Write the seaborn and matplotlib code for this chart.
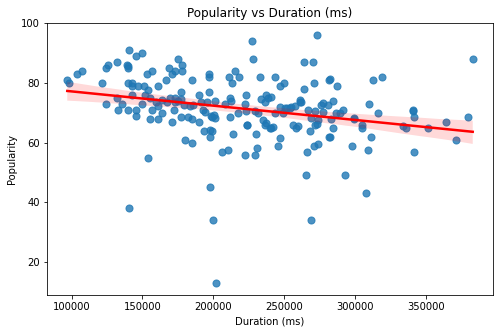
import numpy as np
import pandas as pd
import matplotlib
matplotlib.use("Agg")
import matplotlib.pyplot as plt
import seaborn as sns

duration_ms = [
    97000, 98200, 103700, 107600, 121700, 124500, 125500, 124500,
    132200, 138900, 140000, 140000, 140700, 145200, 149800,
    139500, 142800, 142400, 147000, 151300, 152900, 156500,
    154100, 160700, 166300, 168600, 170500, 172900, 175200, 178000, 178000, 185000, 177100, 189800,
    196800, 196800, 196800, 142800,
    131800, 135300, 132900, 139500, 145600, 145600, 149400, 151700, 155300, 156900, 155200, 161300,
    163900, 161100, 159500, 163500, 167000, 169300, 172900, 172900, 175000, 177000, 179000, 172400,
    171000, 177100, 181800, 184600, 189800, 192800, 186000, 183800, 191000, 195600, 198000,
    193500, 197500, 180000, 185300, 154100, 140700,
    197500, 199800, 201700,
    265000, 269100, 292600, 206000, 210400, 222400, 229400, 266000, 307300, 309000, 341300,
    227300, 228000, 263900, 270200, 273100,
    211100, 215100, 218100, 213200, 232700, 243300, 249800, 246800, 263700, 270700,
    201000, 211600, 212800, 222800, 222200, 237400, 238600, 233900, 236200, 240900, 246800,
    250300, 253800, 257300, 260900, 276100, 208100, 217400, 223300, 229200, 231500, 235000,
    236200, 242000, 243300, 249100, 201000, 211600, 224000, 256100, 269100, 271500, 273800,
    277300, 194000, 199100,
    197500, 199100, 213900, 223800, 230400, 231100, 246800, 245600, 259700, 258500, 267900,
    273100, 273800, 271000, 281500, 297700, 299100,
    281500, 282000, 287100, 284300, 277300, 280800, 291300, 286700, 289000, 283200, 284300,
    282000, 260900, 262100, 266700, 271500, 254500, 252100, 200300, 239700, 240900, 237400,
    382900, 312500, 318800, 298900, 304700, 304700, 309700, 316000, 311300,
    340600, 340600, 341300, 334000, 335500, 351200, 363900, 379400, 370900,
]

popularity = [
    81, 80, 83, 84, 80, 73, 86, 85,
    87, 86, 85.7, 85, 91, 89, 90,
    80, 80, 79, 79, 79, 83, 84,
    77.7, 79, 81, 85, 83, 84, 88, 86, 84, 81, 77, 76,
    83, 82, 77, 76,
    75, 73, 71, 71, 71, 69, 73, 76, 75, 71, 68, 68,
    70, 72.3, 73.5, 74.3, 73.5, 75, 75, 73.5, 74, 74.5, 72.5, 71,
    67, 68.7, 68.7, 67.8, 67, 71, 72.5, 72.3, 73.5, 73.5, 69,
    64, 64.4, 61, 60, 55, 38,
    45, 34, 13,
    49, 34, 49, 57, 57.5, 56, 56, 57, 43, 57.5, 57,
    94, 88, 87, 87, 96,
    82, 84, 82, 80, 82, 82, 80, 79, 78, 80,
    74, 75, 74, 76, 73, 76, 75, 74.5, 73.7, 75.4, 72,
    71.5, 71.5, 72.3, 73.7, 72.6, 73, 70, 70.7, 70.7, 69.8, 67.6,
    66, 65.2, 70, 70, 68.2, 68.7, 66, 66, 68.2, 66, 67.6,
    70.4, 70.4, 68.7,
    62, 64, 62.8, 65.8, 62.8, 58.3, 61.6, 58.8, 65.6, 64.8, 63.9,
    66.3, 59.5, 58.8, 61.8, 59, 68.2,
    81, 81.5, 79, 74, 73.2, 72.6, 71, 70, 70, 68, 64.8,
    62, 74.3, 73.7, 71, 70.7, 71.8, 71.5, 69.3, 64.8, 64.8, 66.5,
    88, 81, 82, 68, 66, 65, 73, 70, 62,
    71, 70.5, 68.7, 65.6, 64.8, 64.8, 67, 68.7, 61,
]

df = pd.DataFrame({"duration_ms": duration_ms, "popularity": popularity})

fig = plt.figure(figsize=(500 / 72, 333 / 72), dpi=72)
ax = fig.add_axes([47 / 500, 1 - 295 / 333, (493 - 47) / 500, (295 - 23) / 333])
sns.regplot(data=df, x="duration_ms", y="popularity", ax=ax,
            scatter_kws={"s": 50}, line_kws={"color": "red", "linewidth": 2.5}, seed=0)
ax.set_title("Popularity vs Duration (ms)", fontsize=12)
ax.set_xlabel("Duration (ms)", fontsize=10)
ax.set_ylabel("Popularity", fontsize=10)
ax.tick_params(labelsize=10)
fig.savefig("out.png", dpi=72)
